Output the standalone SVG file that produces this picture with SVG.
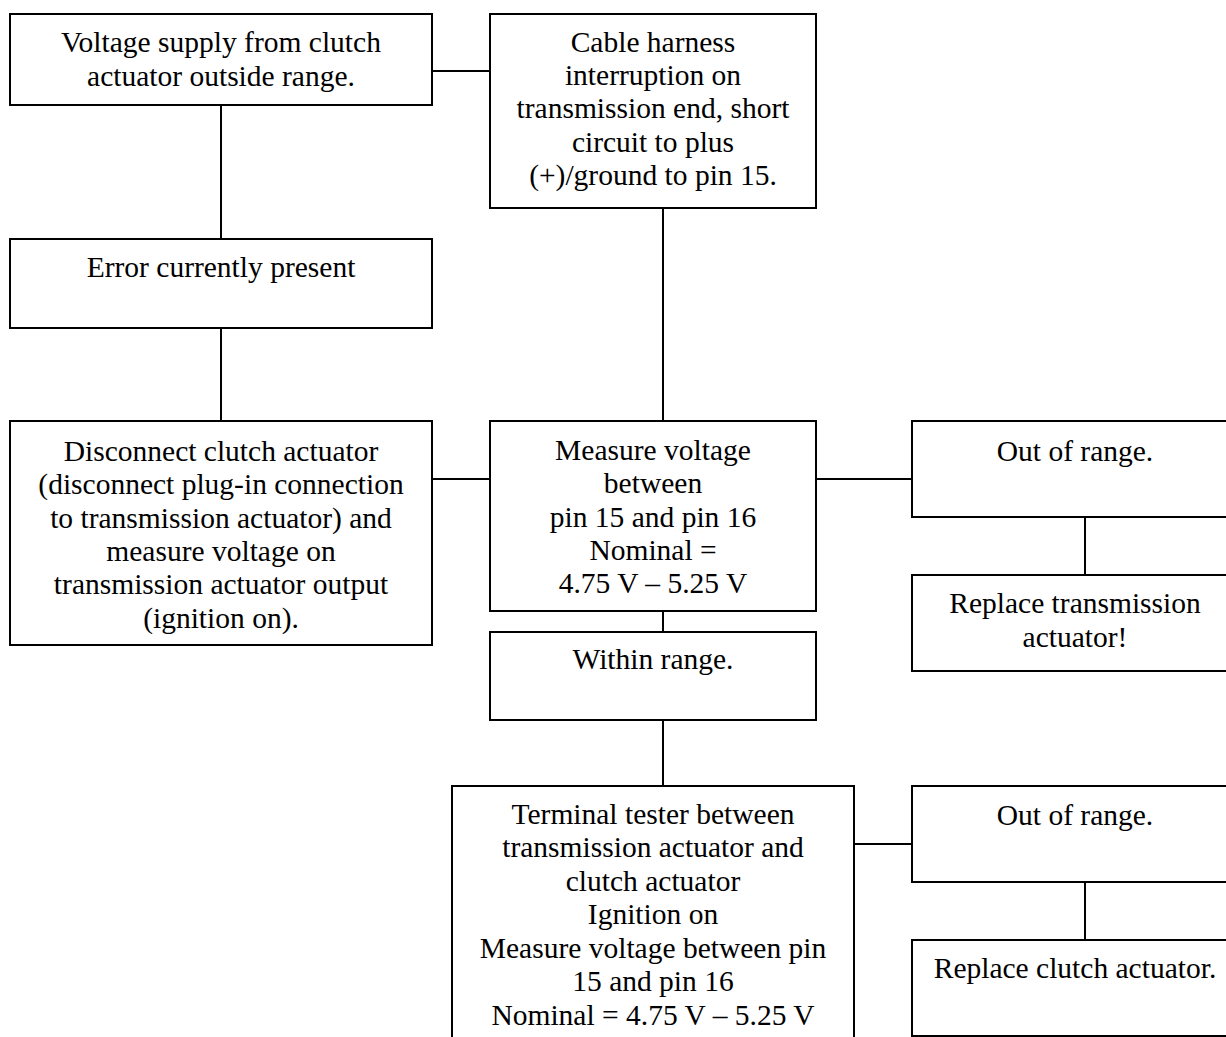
<svg xmlns="http://www.w3.org/2000/svg" width="1226" height="1037" viewBox="0 0 1226 1037">
<style>
rect{fill:#fff;stroke:#000;stroke-width:2}
line{stroke:#000;stroke-width:2}
text{font-family:"Liberation Serif","Times New Roman",serif;font-size:29.5px;fill:#000;text-anchor:middle}
</style>
<rect x="0" y="0" width="1226" height="1037" style="stroke:none"/>
<g id="connectors">
<line x1="432" y1="71" x2="490" y2="71"/>
<line x1="221" y1="105" x2="221" y2="239"/>
<line x1="221" y1="328" x2="221" y2="421"/>
<line x1="432" y1="479" x2="490" y2="479"/>
<line x1="663" y1="208" x2="663" y2="421"/>
<line x1="816" y1="479" x2="912" y2="479"/>
<line x1="663" y1="611" x2="663" y2="632"/>
<line x1="663" y1="720" x2="663" y2="786"/>
<line x1="1085" y1="517" x2="1085" y2="575"/>
<line x1="854" y1="844" x2="912" y2="844"/>
<line x1="1085" y1="882" x2="1085" y2="940"/>
</g>
<g id="n1"><rect x="10" y="14" width="422" height="91"/>
<text x="221" y="52">Voltage supply from clutch</text><text x="221" y="86">actuator outside range.</text></g>
<g id="n2"><rect x="490" y="14" width="326" height="194"/>
<text x="653" y="52">Cable harness</text><text x="653" y="85">interruption on</text><text x="653" y="118">transmission end, short</text><text x="653" y="152">circuit to plus</text><text x="653" y="185">(+)/ground to pin 15.</text></g>
<g id="n3"><rect x="10" y="239" width="422" height="89"/>
<text x="221" y="277">Error currently present</text></g>
<g id="n4"><rect x="10" y="421" width="422" height="224"/>
<text x="221" y="461">Disconnect clutch actuator</text><text x="221" y="494">(disconnect plug-in connection</text><text x="221" y="528">to transmission actuator) and</text><text x="221" y="561">measure voltage on</text><text x="221" y="594">transmission actuator output</text><text x="221" y="628">(ignition on).</text></g>
<g id="n5"><rect x="490" y="421" width="326" height="190"/>
<text x="653" y="460">Measure voltage</text><text x="653" y="493">between</text><text x="653" y="527">pin 15 and pin 16</text><text x="653" y="560">Nominal =</text><text x="653" y="593">4.75 V – 5.25 V</text></g>
<g id="n6"><rect x="912" y="421" width="326" height="96"/>
<text x="1075" y="461">Out of range.</text></g>
<g id="n7"><rect x="912" y="575" width="326" height="96"/>
<text x="1075" y="613">Replace transmission</text><text x="1075" y="647">actuator!</text></g>
<g id="n8"><rect x="490" y="632" width="326" height="88"/>
<text x="653" y="669">Within range.</text></g>
<g id="n9"><rect x="452" y="786" width="402" height="280"/>
<text x="653" y="824">Terminal tester between</text><text x="653" y="857">transmission actuator and</text><text x="653" y="891">clutch actuator</text><text x="653" y="924">Ignition on</text><text x="653" y="958">Measure voltage between pin</text><text x="653" y="991">15 and pin 16</text><text x="653" y="1025">Nominal = 4.75 V – 5.25 V</text></g>
<g id="n10"><rect x="912" y="786" width="326" height="96"/>
<text x="1075" y="825">Out of range.</text></g>
<g id="n11"><rect x="912" y="940" width="326" height="96"/>
<text x="1075" y="978">Replace clutch actuator.</text></g>
</svg>
